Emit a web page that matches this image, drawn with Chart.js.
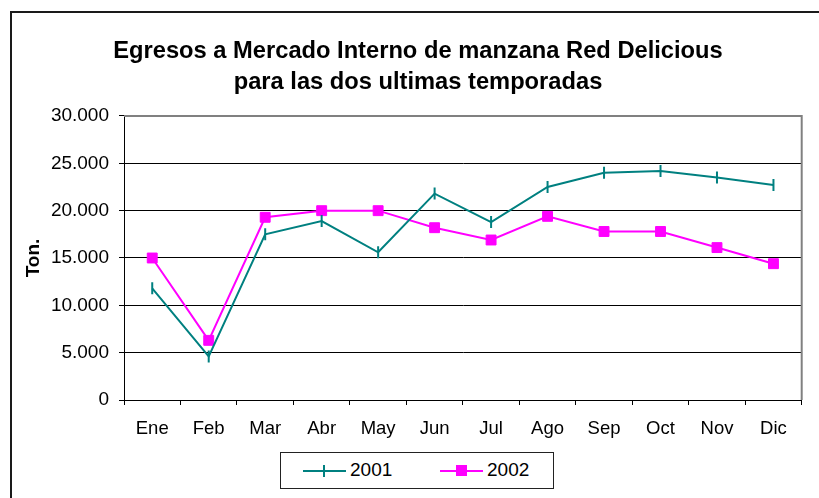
<!DOCTYPE html>
<html>
<head>
<meta charset="utf-8">
<script src="https://cdn.jsdelivr.net/npm/chart.js@4.4.0/dist/chart.umd.min.js"></script>
<style>
  html, body { margin: 0; padding: 0; background: #fff; }
  #wrap { position: relative; width: 819px; height: 498px; overflow: hidden; font-family: "Liberation Sans", Arial, sans-serif; }
  #frame { position: absolute; left: 10px; top: 11px; width: 900px; height: 600px; border-left: 2px solid #1a1a1a; border-top: 2px solid #1a1a1a; }
  canvas { position: absolute; left: 0; top: 0; }
  #legend { position: absolute; left: 280px; top: 452px; width: 272px; height: 35px; border: 1px solid #222; background: #fff; }
  .item { position: absolute; top: 0; height: 35px; }
  .item .ln { position: absolute; top: 17px; height: 2px; width: 43px; left: 0; }
  .item .txt { position: absolute; left: 47px; top: 6px; font-size: 19px; color: #000; line-height: 22px; }
  .mk-bar { position: absolute; left: 20px; top: 12px; width: 2px; height: 12px; background: #008080; }
  .mk-sq { position: absolute; left: 16px; top: 12px; width: 11px; height: 11px; background: #ff00ff; }
</style>
</head>
<body>
<div id="wrap">
  <div id="frame"></div>
  <canvas id="chart" width="836" height="498"></canvas>
  <div id="legend">
    <div class="item" style="left:22px">
      <div class="ln" style="background:#008080"></div>
      <div class="mk-bar"></div>
      <div class="txt">2001</div>
    </div>
    <div class="item" style="left:159px">
      <div class="ln" style="background:#ff00ff"></div>
      <div class="mk-sq"></div>
      <div class="txt">2002</div>
    </div>
  </div>
</div>
<script>
// meses y toneladas por temporada
const months = ['Ene', 'Feb', 'Mar', 'Abr', 'May', 'Jun', 'Jul', 'Ago', 'Sep', 'Oct', 'Nov', 'Dic'];
const serie2001 = [11800, 4600, 17500, 18900, 15600, 21800, 18800, 22500, 24000, 24200, 23500, 22700];
const serie2002 = [15000, 6300, 19300, 20000, 20000, 18200, 16900, 19400, 17800, 17800, 16100, 14400];
const titleLines = ['Egresos a Mercado Interno de manzana Red Delicious', 'para las dos ultimas temporadas'];

const fontFamily = '"Liberation Sans", Arial, sans-serif';

function formatMiles(v) {
    return String(v).replace(/\B(?=(\d{3})+(?!\d))/g, '.');
}

// borde gris arriba y a la derecha del area de trazado
const plotFrame = {
    id: 'plotFrame',
    afterDatasetsDraw(chart) {
        const { ctx, chartArea } = chart;
        ctx.save();
        ctx.strokeStyle = '#808080';
        ctx.lineWidth = 2;
        ctx.beginPath();
        ctx.moveTo(chartArea.left, chartArea.top);
        ctx.lineTo(chartArea.right, chartArea.top);
        ctx.lineTo(chartArea.right, chartArea.bottom);
        ctx.stroke();
        ctx.restore();
    }
};

const ctx = document.getElementById('chart').getContext('2d');
new Chart(ctx, {
    type: 'line',
    data: {
        labels: months,
        datasets: [
            {
                label: '2001',
                data: serie2001,
                borderColor: '#008080',
                borderWidth: 2,
                pointStyle: 'line',
                rotation: 90,
                pointRadius: 6,
                pointBorderWidth: 2,
                pointBorderColor: '#008080',
                pointBackgroundColor: '#008080',
                tension: 0
            },
            {
                label: '2002',
                data: serie2002,
                borderColor: '#ff00ff',
                borderWidth: 2,
                pointStyle: 'rect',
                pointRadius: 7,
                pointBorderWidth: 1,
                pointBorderColor: '#ff00ff',
                pointBackgroundColor: '#ff00ff',
                tension: 0
            }
        ]
    },
    options: {
        responsive: false,
        animation: false,
        layout: { padding: 0 },
        plugins: {
            legend: { display: false },
            tooltip: { enabled: false },
            title: {
                display: true,
                text: titleLines,
                color: '#000',
                font: { family: fontFamily, size: 23.7, weight: 'bold', lineHeight: 1.31 },
                padding: { top: 35.5, bottom: 18.4 }
            }
        },
        scales: {
            x: {
                offset: true,
                grid: { offset: true, drawOnChartArea: false, drawTicks: true, tickLength: 5, color: '#000' },
                border: { color: '#000', width: 1 },
                ticks: { color: '#000', padding: 13, font: { family: fontFamily, size: 18.5 } },
                afterFit: s => { s.height = 98; }
            },
            y: {
                min: 0,
                max: 30000,
                grid: {
                    color: c => (c.tick && c.tick.value === 30000 ? '#808080' : '#000'),
                    tickLength: 5,
                    tickColor: '#000'
                },
                border: { color: '#000', width: 1 },
                ticks: {
                    stepSize: 5000,
                    color: '#000',
                    padding: 10,
                    font: { family: fontFamily, size: 19 },
                    callback: v => formatMiles(v)
                },
                title: {
                    display: true,
                    text: 'Ton.',
                    color: '#000',
                    font: { family: fontFamily, size: 19, weight: 'bold', lineHeight: 1.2 },
                    padding: { top: 22, bottom: 0 }
                },
                afterFit: s => { s.width = 124; }
            },
            // eje vacio a la derecha: deja el espacio que el grafico original tiene fuera del recorte
            margen: {
                type: 'linear',
                position: 'right',
                display: true,
                grid: { display: false },
                border: { display: false },
                ticks: { display: false },
                afterFit: s => { s.width = 34.3; }
            }
        }
    },
    plugins: [plotFrame]
});
</script>
</body>
</html>
